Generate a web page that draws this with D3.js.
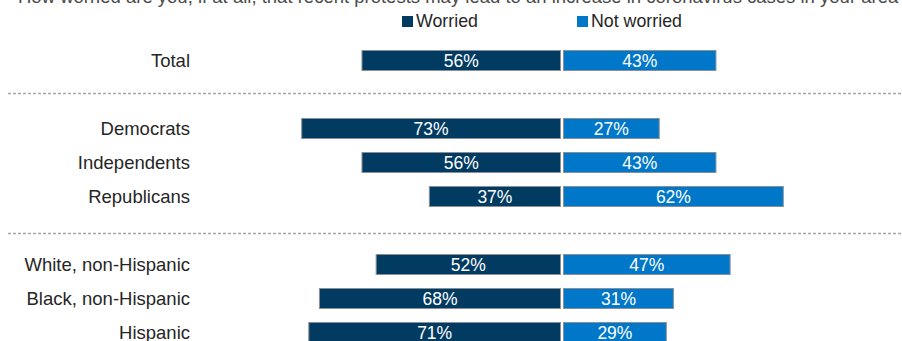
<!DOCTYPE html>
<html><head><meta charset="utf-8">
<script src="https://cdn.jsdelivr.net/npm/d3@7/dist/d3.min.js"></script>
<style>
html,body{margin:0;padding:0;background:#fff;}
svg{display:block;font-family:"Liberation Sans",Arial,sans-serif;}
</style></head>
<body>
<svg id="chart" width="902" height="341"></svg>
<script>
const title = "How worried are you, if at all, that recent protests may lead to an increase in coronavirus cases in your area?";
const categories = ["Total", "", "Democrats", "Independents", "Republicans", "", "White, non-Hispanic", "Black, non-Hispanic", "Hispanic"];
const worried =    [56, null, 73, 56, 37, null, 52, 68, 71];
const notWorried = [43, null, 27, 43, 62, null, 47, 31, 29];
const seriesNames = ["Worried", "Not worried"];
const colors = ["#023b62", "#0077c8"];

const svg = d3.select("#chart");
const xL = d3.scaleLinear().domain([0, 100]).range([560.5, 560.5 - 354.5]);
const xR = d3.scaleLinear().domain([0, 100]).range([563.5, 563.5 + 354.5]);
const y = d3.scaleLinear().domain([0, categories.length - 1]).range([60.5, 332.5]);
const barH = 20;

// title (cut off at the top)
svg.append("text").attr("x", 18).attr("y", 3).attr("font-size", 18.5).attr("fill", "#4a4a4a").text(title);

// legend
const legendX = [402, 577];
seriesNames.forEach((n, i) => {
  svg.append("rect").attr("x", legendX[i]).attr("y", 16).attr("width", 11).attr("height", 11).attr("fill", colors[i]);
  svg.append("text").attr("x", legendX[i] + 14).attr("y", 27.3).attr("font-size", 17.8).attr("fill", "#262626").text(n);
});

// separators (midway between groups)
categories.forEach((c, i) => {
  if (c !== "") return;
  const yy = Math.round((y(i - 1) + y(i + 1)) / 2) - 0.5 + (i > 2 ? 3 : -1);
  svg.append("line").attr("x1", 8).attr("x2", 902).attr("y1", yy).attr("y2", yy)
    .attr("stroke", "#a6a6a6").attr("stroke-width", 1.3).attr("stroke-dasharray", "3,2");
});

const rows = categories.map((c, i) => ({c, i, w: worried[i], n: notWorried[i]})).filter(d => d.c !== "");

// category labels
svg.selectAll(".cat").data(rows).join("text")
  .attr("x", 190).attr("y", d => y(d.i) + 6.3).attr("text-anchor", "end")
  .attr("font-size", 18.5).attr("fill", "#262626").text(d => d.c);

// bars
svg.selectAll(".bw").data(rows).join("rect")
  .attr("x", d => xL(d.w)).attr("y", d => y(d.i) - barH / 2)
  .attr("width", d => xL(0) - xL(d.w)).attr("height", barH)
  .attr("fill", colors[0]).attr("stroke", "#8a8f96").attr("stroke-width", 1);
svg.selectAll(".bn").data(rows).join("rect")
  .attr("x", xR(0)).attr("y", d => y(d.i) - barH / 2)
  .attr("width", d => xR(d.n) - xR(0)).attr("height", barH)
  .attr("fill", colors[1]).attr("stroke", "#8a8f96").attr("stroke-width", 1);

// value labels
svg.selectAll(".lw").data(rows).join("text")
  .attr("x", d => (xL(d.w) + xL(0)) / 2).attr("y", d => y(d.i) + 6.8)
  .attr("text-anchor", "middle").attr("font-size", 17.5).attr("fill", "#fff").text(d => d.w + "%");
svg.selectAll(".ln").data(rows).join("text")
  .attr("x", d => (xR(d.n) + xR(0)) / 2).attr("y", d => y(d.i) + 6.8)
  .attr("text-anchor", "middle").attr("font-size", 17.5).attr("fill", "#fff").text(d => d.n + "%");
</script>
</body></html>
